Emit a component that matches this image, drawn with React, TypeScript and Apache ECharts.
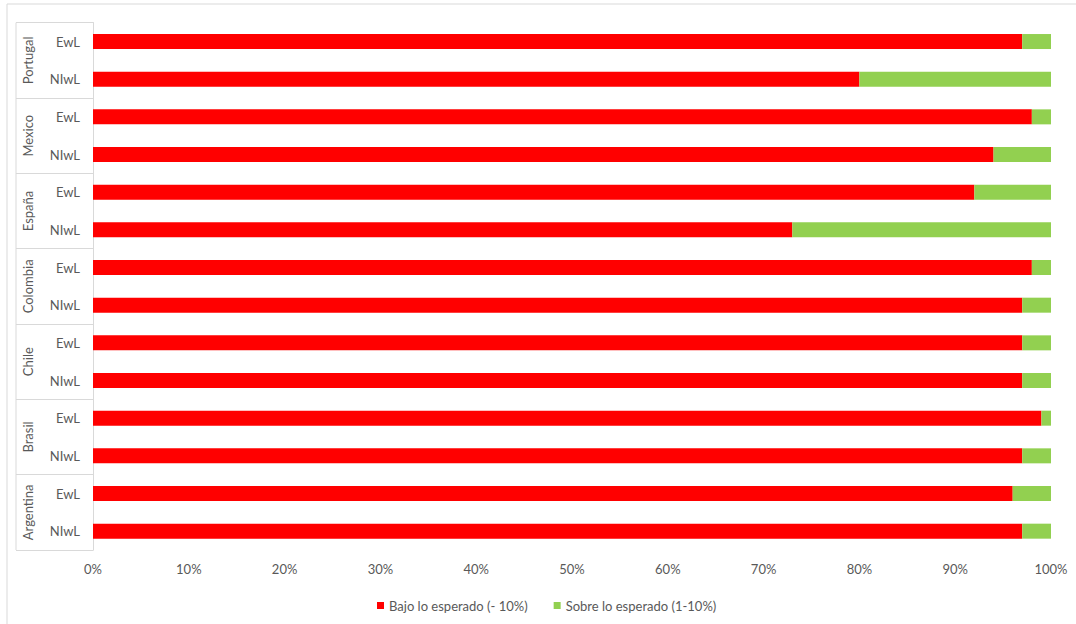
import React, { useEffect, useRef } from "react";
import * as echarts from "echarts";

const countries = ["Argentina", "Brasil", "Chile", "Colombia", "España", "Mexico", "Portugal"];
const subLabels = [
  "NIwL", "EwL", "NIwL", "EwL", "NIwL", "EwL", "NIwL", "EwL",
  "NIwL", "EwL", "NIwL", "EwL", "NIwL", "EwL",
];
const bajo = [97, 96, 97, 99, 97, 97, 97, 98, 73, 92, 94, 98, 80, 97];
const sobre = [3, 4, 3, 1, 3, 3, 3, 2, 27, 8, 6, 2, 20, 3];
const xTicks = [0, 10, 20, 30, 40, 50, 60, 70, 80, 90, 100];
const seriesNames = ["Bajo lo esperado (- 10%)", "Sobre lo esperado (1-10%)"];

const FONT = "Lato, 'Open Sans', sans-serif";
const GRAY_TEXT = "#595959";
const LINE = "#d9d9d9";
const FS = 13;

export default function App() {
  const ref = useRef<HTMLDivElement>(null);
  useEffect(() => {
    if (!ref.current) return;
    const chart = echarts.init(ref.current, undefined, { renderer: "svg" });
    chart.setOption({
      animation: false,
      textStyle: { fontFamily: FONT },
      grid: { left: 93, right: 25, top: 22.7, bottom: 74, containLabel: false },
      legend: {
        data: seriesNames,
        left: 372,
        top: 594,
        icon: "rect",
        itemWidth: 7,
        itemHeight: 7,
        itemGap: 26,
        itemStyle: { borderWidth: 0 },
        textStyle: { color: GRAY_TEXT, fontSize: FS, fontFamily: FONT },
      },
      xAxis: {
        type: "value",
        min: xTicks[0],
        max: xTicks[xTicks.length - 1],
        interval: 10,
        axisLine: { show: false },
        axisTick: { show: false },
        splitLine: { show: false },
        axisLabel: {
          formatter: "{value}%",
          color: GRAY_TEXT,
          fontSize: FS,
          margin: 12,
          fontFamily: FONT,
        },
      },
      yAxis: [
        {
          type: "category",
          data: subLabels,
          position: "left",
          axisLine: { show: true, lineStyle: { color: LINE } },
          axisTick: { show: false },
          axisLabel: { color: GRAY_TEXT, fontSize: FS, margin: 13, fontFamily: FONT },
        },
        {
          type: "category",
          data: countries,
          position: "left",
          offset: 0,
          axisLine: { show: true, lineStyle: { color: LINE } },
          axisTick: { show: true, length: 77, lineStyle: { color: LINE } },
          axisLabel: {
            rotate: 90,
            color: GRAY_TEXT,
            fontSize: FS,
            margin: 59,
            fontFamily: FONT,
          },
        },
      ],
      graphic: [
        {
          type: "rect",
          shape: { x: 7, y: 4, width: 1100, height: 700 },
          style: { fill: "none", stroke: LINE, lineWidth: 1 },
          silent: true,
        },
        {
          type: "line",
          shape: { x1: 16, y1: 22.7, x2: 16, y2: 550 },
          style: { stroke: LINE, lineWidth: 1 },
          silent: true,
        },
      ],
      series: [
        {
          name: seriesNames[0],
          type: "bar",
          stack: "total",
          barWidth: 15,
          yAxisIndex: 0,
          itemStyle: { color: "#FF0000" },
          data: bajo,
        },
        {
          name: seriesNames[1],
          type: "bar",
          stack: "total",
          barWidth: 15,
          yAxisIndex: 0,
          itemStyle: { color: "#92D050" },
          data: sobre,
        },
      ],
    });
    return () => chart.dispose();
  }, []);
  return (
    <div
      ref={ref}
      style={{ position: "fixed", left: 0, top: 0, width: 1076, height: 624, background: "#fff" }}
    />
  );
}
